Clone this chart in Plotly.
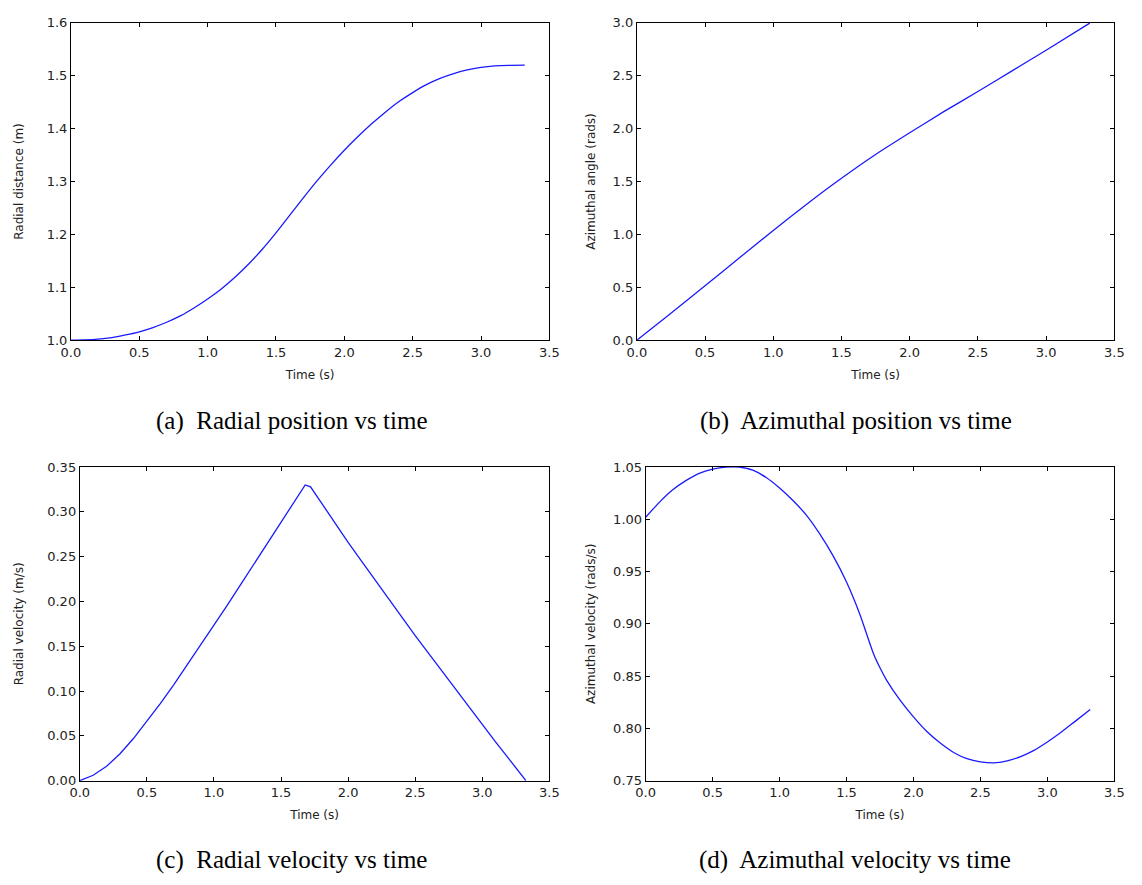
import plotly.graph_objects as go

# ---- data ----
t_r = [0.0, 0.1, 0.2, 0.3, 0.4, 0.5, 0.6, 0.7, 0.8, 0.9, 1.0, 1.1, 1.2, 1.3, 1.4, 1.5, 1.6, 1.7,
       1.8, 1.9, 2.0, 2.1, 2.2, 2.3, 2.4, 2.5, 2.6, 2.7, 2.8, 2.9, 3.0, 3.1, 3.2, 3.32]
r_vals = [1.000, 1.0005, 1.002, 1.005, 1.010, 1.016, 1.024, 1.034, 1.046, 1.061, 1.078, 1.097,
          1.119, 1.144, 1.172, 1.203, 1.236, 1.269, 1.301, 1.331, 1.359, 1.385, 1.409, 1.431,
          1.451, 1.468, 1.483, 1.495, 1.504, 1.511, 1.5155, 1.5183, 1.5196, 1.520]

t_th = [0.0, 0.25, 0.5, 0.75, 1.0, 1.25, 1.5, 1.75, 2.0, 2.25, 2.5, 2.75, 3.0, 3.32]
th_vals = [0.0, 0.255, 0.515, 0.777, 1.037, 1.29, 1.53, 1.755, 1.96, 2.16, 2.35, 2.545, 2.74, 2.996]

t_v = [0.0, 0.1, 0.2, 0.3, 0.4, 0.5, 0.6, 0.7, 0.8, 0.9, 1.0, 1.1, 1.2, 1.3, 1.4, 1.5, 1.6,
       1.65, 1.68, 1.72, 1.8, 1.9, 2.0, 2.1, 2.2, 2.3, 2.4, 2.5, 2.6, 2.7, 2.8, 2.9, 3.0, 3.1,
       3.2, 3.3, 3.325]
v_vals = [0.0, 0.006, 0.016, 0.030, 0.047, 0.066, 0.086, 0.107, 0.129, 0.151, 0.173, 0.196,
          0.219, 0.242, 0.265, 0.288, 0.312, 0.324, 0.330, 0.328, 0.310, 0.288, 0.266, 0.245,
          0.224, 0.203, 0.183, 0.162, 0.142, 0.122, 0.102, 0.082, 0.063, 0.043, 0.024, 0.005, 0.0]

t_w = [0.0, 0.1, 0.2, 0.3, 0.4, 0.5, 0.6, 0.7, 0.8, 0.9, 1.0, 1.1, 1.2, 1.3, 1.4, 1.5, 1.6,
       1.7, 1.75, 1.8, 1.9, 2.0, 2.1, 2.2, 2.3, 2.4, 2.5, 2.6, 2.7, 2.8, 2.9, 3.0, 3.1, 3.2, 3.32]
w_vals = [1.002, 1.016, 1.028, 1.037, 1.044, 1.048, 1.050, 1.050, 1.047, 1.040, 1.030, 1.018,
          1.004, 0.986, 0.965, 0.940, 0.909, 0.872, 0.858, 0.846, 0.827, 0.811, 0.797, 0.786,
          0.777, 0.771, 0.768, 0.767, 0.769, 0.773, 0.779, 0.787, 0.796, 0.806, 0.818]

y_titles = ["Radial distance (m)", "Azimuthal angle (rads)", "Radial velocity (m/s)", "Azimuthal velocity (rads/s)"]
y_ranges = [[1.0, 1.6], [0.0, 3.0], [0.0, 0.35], [0.75, 1.05]]
y_dtick = [0.1, 0.5, 0.05, 0.05]
y_fmt = [".1f", ".1f", ".2f", ".2f"]
y_standoff = [20, 14, 20, 14]
line_shape = ["spline", "spline", "linear", "spline"]
captions = ["(a)  Radial position vs time", "(b)  Azimuthal position vs time",
            "(c)  Radial velocity vs time", "(d)  Azimuthal velocity vs time"]

W, H = 1142, 885
# plot boxes in pixels: left, right, top, bottom
boxes = [(62, 549, 16, 339), (638, 1124, 16, 339), (71, 549, 468, 787), (647, 1124, 468, 787)]
cap_pos = [(287, 421), (861, 421), (287, 868), (860, 868)]

series = [(t_r, r_vals), (t_th, th_vals), (t_v, v_vals), (t_w, w_vals)]

fig = go.Figure()
tickfont = dict(family="DejaVu Sans", size=13, color="#222")
titlefont = dict(family="DejaVu Sans", size=12, color="#222")

layout = dict(width=W, height=H, margin=dict(l=0, r=0, t=0, b=0),
              paper_bgcolor="white", plot_bgcolor="white", showlegend=False)

for i, ((x, y), box) in enumerate(zip(series, boxes)):
    n = "" if i == 0 else str(i + 1)
    ln = dict(color="#1a1aff", width=1.3, shape=line_shape[i])
    if line_shape[i] == "spline":
        ln["smoothing"] = 0.5
    fig.add_trace(go.Scatter(x=x, y=y, mode="lines", line=ln,
                             xaxis="x" + n, yaxis="y" + n, hoverinfo="skip"))
    l, r, t, b = box
    common = dict(showline=True, linecolor="black", linewidth=1, mirror="ticks", ticks="inside",
                  ticklen=4, tickcolor="black", tickwidth=1, showgrid=False, zeroline=False,
                  tickfont=tickfont)
    layout["xaxis" + n] = dict(common, domain=[l / W, r / W], range=[0, 3.5], dtick=0.5, tick0=0,
                               tickformat=".1f", anchor="y" + n,
                               title=dict(text="Time (s)", font=titlefont, standoff=11))
    layout["yaxis" + n] = dict(common, domain=[1 - b / H, 1 - t / H], range=y_ranges[i],
                               dtick=y_dtick[i], tick0=y_ranges[i][0], tickformat=y_fmt[i],
                               anchor="x" + n,
                               title=dict(text=y_titles[i], font=titlefont, standoff=y_standoff[i]))

fig.update_layout(**layout)

for (cx, cy), txt in zip(cap_pos, captions):
    fig.add_annotation(x=cx / W, y=1 - cy / H, xref="paper", yref="paper", text=txt, showarrow=False,
                       font=dict(family="Liberation Serif", size=25, color="black"),
                       xanchor="center", yanchor="middle")

fig.write_html("out.html")
